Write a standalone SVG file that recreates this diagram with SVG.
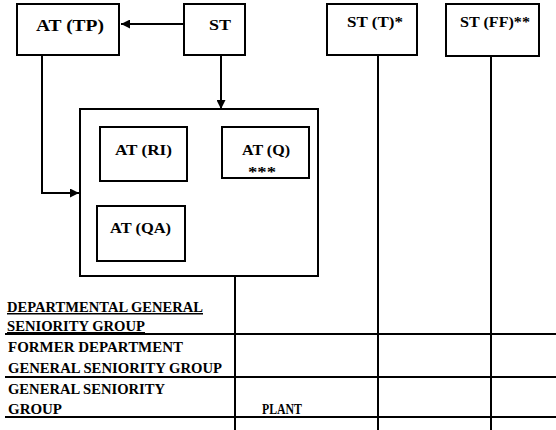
<svg xmlns="http://www.w3.org/2000/svg" width="556" height="430" viewBox="0 0 556 430">
<defs>
<style>
.box{fill:#fff;stroke:#000;stroke-width:2}
.ln{fill:none;stroke:#000;stroke-width:2}
text{font-family:"Liberation Serif",serif;font-weight:bold;fill:#000}
.u{text-decoration:underline}
</style>
<marker id="ah" viewBox="0 0 10 10" refX="10" refY="5" markerWidth="10" markerHeight="9" markerUnits="userSpaceOnUse" orient="auto">
<path d="M0,0 L10,5 L0,10 Z" fill="#000"/>
</marker>
</defs>
<rect width="556" height="430" fill="#fff"/>
<g id="connectors">
<line class="ln" x1="184" y1="24" x2="121" y2="24" marker-end="url(#ah)"/>
<line class="ln" x1="221" y1="55" x2="221" y2="109" marker-end="url(#ah)"/>
<polyline class="ln" points="42,55 42,193 79,193" marker-end="url(#ah)"/>
<line class="ln" x1="235" y1="276" x2="235" y2="430"/>
<line class="ln" x1="378" y1="55" x2="378" y2="430"/>
<line class="ln" x1="491" y1="56" x2="491" y2="430"/>
</g>
<g id="table">
<line class="ln" x1="5" y1="334" x2="556" y2="334"/>
<line class="ln" x1="5" y1="377" x2="556" y2="377"/>
<line class="ln" x1="5" y1="417" x2="556" y2="417"/>
<text class="u" x="7" y="312" font-size="15" textLength="196" lengthAdjust="spacingAndGlyphs">DEPARTMENTAL GENERAL</text>
<text class="u" x="7" y="331" font-size="15" textLength="138" lengthAdjust="spacingAndGlyphs">SENIORITY GROUP</text>
<text x="8" y="352" font-size="15" textLength="175" lengthAdjust="spacingAndGlyphs">FORMER DEPARTMENT</text>
<text x="8" y="373" font-size="15" textLength="214" lengthAdjust="spacingAndGlyphs">GENERAL SENIORITY GROUP</text>
<text x="8" y="394" font-size="15" textLength="157" lengthAdjust="spacingAndGlyphs">GENERAL SENIORITY</text>
<text x="8" y="414" font-size="15" textLength="54" lengthAdjust="spacingAndGlyphs">GROUP</text>
<text x="262" y="414" font-size="14" textLength="40" lengthAdjust="spacingAndGlyphs">PLANT</text>
</g>
<g id="at-tp">
<rect class="box" x="17" y="4" width="102" height="51"/>
<text x="36" y="31" font-size="16" textLength="68" lengthAdjust="spacingAndGlyphs">AT (TP)</text>
</g>
<g id="st">
<rect class="box" x="184" y="4" width="61" height="51"/>
<text x="209" y="30" font-size="15" textLength="22" lengthAdjust="spacingAndGlyphs">ST</text>
</g>
<g id="st-t">
<rect class="box" x="327" y="4" width="90" height="51"/>
<text x="347" y="27" font-size="14" textLength="56" lengthAdjust="spacingAndGlyphs">ST (T)*</text>
</g>
<g id="st-ff">
<rect class="box" x="446" y="4" width="93" height="52"/>
<text x="460" y="27" font-size="14" textLength="70" lengthAdjust="spacingAndGlyphs">ST (FF)**</text>
</g>
<g id="group-box">
<rect class="box" x="80" y="109" width="238" height="167"/>
</g>
<g id="at-ri">
<rect class="box" x="100" y="127" width="87" height="54"/>
<text x="115" y="155" font-size="14" textLength="57" lengthAdjust="spacingAndGlyphs">AT (RI)</text>
</g>
<g id="at-q">
<rect class="box" x="222" y="127" width="87" height="51"/>
<text x="242" y="155" font-size="14" textLength="48" lengthAdjust="spacingAndGlyphs">AT (Q)</text>
<text x="248" y="177" font-size="14" textLength="28" lengthAdjust="spacingAndGlyphs">***</text>
</g>
<g id="at-qa">
<rect class="box" x="97" y="206" width="88" height="55"/>
<text x="110" y="233" font-size="14" textLength="61" lengthAdjust="spacingAndGlyphs">AT (QA)</text>
</g>
</svg>
